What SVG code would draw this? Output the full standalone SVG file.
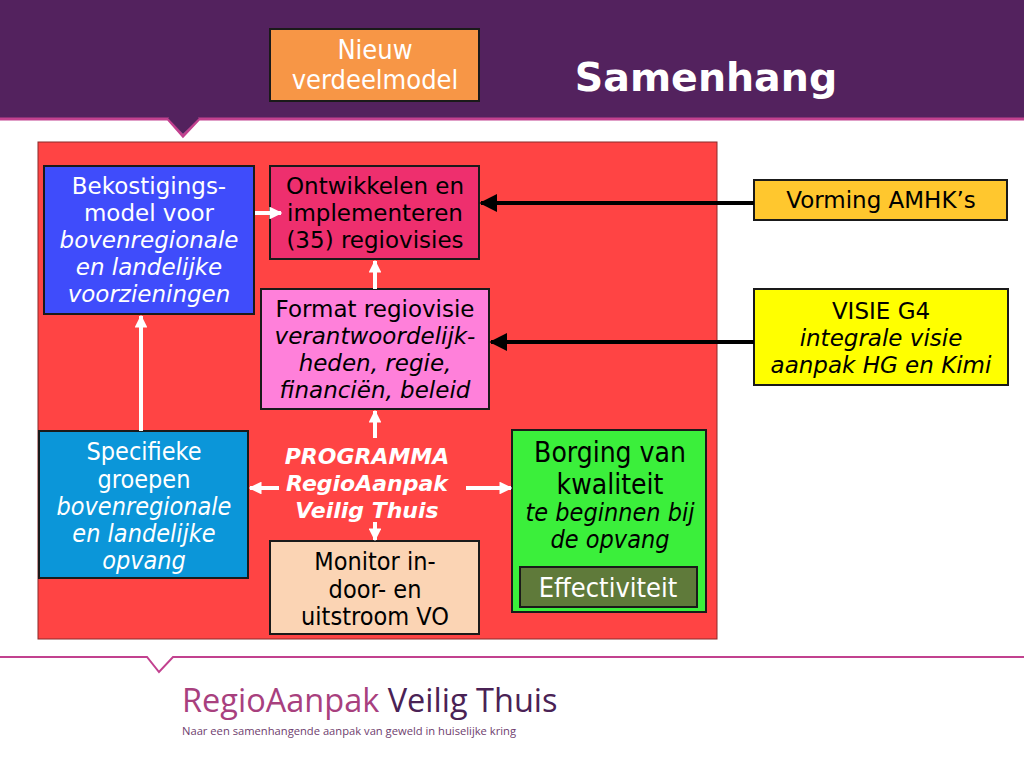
<svg xmlns="http://www.w3.org/2000/svg" width="1024" height="768" viewBox="0 0 1024 768">
<defs>
<style>
.v{font-family:"DejaVu Sans",Verdana,sans-serif;font-size:23px;text-anchor:middle}
.c{font-family:"DejaVu Sans Condensed","Liberation Sans Narrow","Liberation Sans",sans-serif;text-anchor:middle}
.i{font-style:italic}
.box{stroke:#1a1a1a;stroke-width:2}
.wl{stroke:#fff;stroke-width:4;fill:none}
.bl{stroke:#000;stroke-width:4;fill:none}
</style>
<marker id="wa" viewBox="0 0 10 10" refX="9" refY="5" markerWidth="3.2" markerHeight="3.2" orient="auto" markerUnits="strokeWidth"><path d="M0,0 L10,5 L0,10 z" fill="#fff"/></marker>
<marker id="ba" viewBox="0 0 10 10" refX="9" refY="5" markerWidth="4.5" markerHeight="4.5" orient="auto" markerUnits="strokeWidth"><path d="M0,0 L10,5 L0,10 z" fill="#000"/></marker>
</defs>
<rect width="1024" height="768" fill="#fff"/>
<!-- header -->
<rect x="0" y="0" width="1024" height="119" fill="#53225E"/>
<path d="M0,119 L168,119 L183,136 L199,119 L1024,119" fill="none" stroke="#C2418F" stroke-width="3"/>
<path d="M168,118 L183,134 L199,118 z" fill="#53225E"/>
<text x="706" y="91" font-family="'DejaVu Sans',Verdana,sans-serif" font-weight="bold" font-size="39.5" fill="#fff" text-anchor="middle">Samenhang</text>
<g id="nieuw">
<rect class="box" x="270" y="29" width="209" height="72" fill="#F79646"/>
<text class="c" x="375" y="59" font-size="27" fill="#fff">Nieuw</text>
<text class="c" x="375" y="89" font-size="27" fill="#fff">verdeelmodel</text>
</g>
<!-- main red area -->
<rect x="38" y="142" width="679" height="497" fill="#FF4444" stroke="#8a2a2a" stroke-width="1"/>
<g id="bekostiging">
<rect class="box" x="44" y="166" width="210" height="148" fill="#3F4CFB"/>
<text class="v" x="149" y="194" fill="#fff">Bekostigings-</text>
<text class="v" x="149" y="221" fill="#fff">model voor</text>
<text class="v i" x="149" y="248" fill="#fff">bovenregionale</text>
<text class="v i" x="149" y="275" fill="#fff">en landelijke</text>
<text class="v i" x="149" y="302" fill="#fff">voorzieningen</text>
</g>
<g id="ontwikkelen">
<rect class="box" x="270" y="166" width="209" height="93" fill="#EE2F6E"/>
<text class="v" x="375" y="194">Ontwikkelen en</text>
<text class="v" x="375" y="221">implementeren</text>
<text class="v" x="375" y="248">(35) regiovisies</text>
</g>
<g id="format">
<rect class="box" x="261" y="289" width="228" height="120" fill="#FF80DA"/>
<text class="v" x="375" y="317">Format regiovisie</text>
<text class="v i" x="375" y="344">verantwoordelijk-</text>
<text class="v i" x="375" y="371">heden, regie,</text>
<text class="v i" x="375" y="398">financiën, beleid</text>
</g>
<g id="specifieke">
<rect class="box" x="39" y="431" width="209" height="147" fill="#0B96D9"/>
<text class="c" x="144" y="460" font-size="25" fill="#fff">Specifieke</text>
<text class="c" x="144" y="488" font-size="25" fill="#fff">groepen</text>
<text class="c i" x="144" y="515" font-size="25" fill="#fff">bovenregionale</text>
<text class="c i" x="144" y="542" font-size="25" fill="#fff">en landelijke</text>
<text class="c i" x="144" y="569" font-size="25" fill="#fff">opvang</text>
</g>
<g id="programma">
<text font-family="'DejaVu Sans',Verdana,sans-serif" font-size="22" font-weight="bold" font-style="italic" fill="#fff" text-anchor="middle">
<tspan x="367" y="464">PROGRAMMA</tspan><tspan x="367" y="491">RegioAanpak</tspan><tspan x="367" y="518">Veilig Thuis</tspan></text>
</g>
<g id="monitor">
<rect class="box" x="270" y="541" width="209" height="93" fill="#FBD4B4"/>
<text class="c" x="375" y="570" font-size="25">Monitor in-</text>
<text class="c" x="375" y="598" font-size="25">door- en</text>
<text class="c" x="375" y="625" font-size="25">uitstroom VO</text>
</g>
<g id="borging">
<rect class="box" x="512" y="430" width="194" height="182" fill="#3BEF3B"/>
<text class="c" x="610" y="462" font-size="28">Borging van</text>
<text class="c" x="610" y="494" font-size="28">kwaliteit</text>
<text class="c i" x="610" y="521" font-size="25">te beginnen bij</text>
<text class="c i" x="610" y="548" font-size="25">de opvang</text>
</g>
<g id="effectiviteit">
<rect class="box" x="520" y="567" width="177" height="40" fill="#5F7A3A"/>
<text class="c" x="608" y="597" font-size="27" fill="#fff">Effectiviteit</text>
</g>
<g id="vorming">
<rect class="box" x="754" y="180" width="253" height="40" fill="#FFC72E"/>
<text class="v" x="881" y="208">Vorming AMHK’s</text>
</g>
<g id="visie">
<rect class="box" x="754" y="289" width="254" height="96" fill="#FFFF00"/>
<text class="v" x="881" y="319">VISIE G4</text>
<text class="v i" x="881" y="346">integrale visie</text>
<text class="v i" x="881" y="373">aanpak HG en Kimi</text>
</g>
<g id="connectors">
<line class="bl" x1="754" y1="203" x2="481" y2="203" marker-end="url(#ba)"/>
<line class="bl" x1="754" y1="342" x2="491" y2="342" marker-end="url(#ba)"/>
<line class="wl" x1="255" y1="213" x2="281" y2="213" marker-end="url(#wa)"/>
<line class="wl" x1="375" y1="289" x2="375" y2="261" marker-end="url(#wa)"/>
<line class="wl" x1="141" y1="431" x2="141" y2="316" marker-end="url(#wa)"/>
<line class="wl" x1="375" y1="438" x2="375" y2="411" marker-end="url(#wa)"/>
<line class="wl" x1="279" y1="488" x2="250" y2="488" marker-end="url(#wa)"/>
<line class="wl" x1="466" y1="488" x2="511" y2="488" marker-end="url(#wa)"/>
<line class="wl" x1="375" y1="522" x2="375" y2="540" marker-end="url(#wa)"/>
</g>
<!-- footer -->
<path d="M0,657 L147,657 L159,672 L173,657 L1024,657" fill="none" stroke="#C2418F" stroke-width="2"/>
<text x="182" y="712" font-family="'Open Sans','Lato',sans-serif" font-size="32.5"><tspan fill="#A8407E">RegioAanpak</tspan><tspan fill="#4A2255"> Veilig Thuis</tspan></text>
<text x="182" y="735" font-family="'Open Sans','Lato',sans-serif" font-size="11.2" fill="#6E3D6E">Naar een samenhangende aanpak van geweld in huiselijke kring</text>
</svg>
